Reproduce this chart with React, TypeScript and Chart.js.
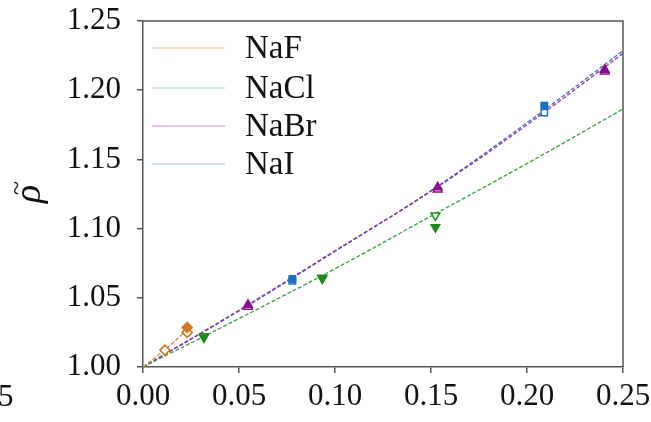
import React, { useEffect, useRef } from "react";
import { Chart, registerables } from "chart.js";
Chart.register(...registerables);

const seriesNames = ["NaF", "NaCl", "NaBr", "NaI"];
const lineColors = ["#d98a45", "#3c9e3c", "#9a2f9e", "#3a74c4"];
const legendColors = ["#eac19c", "#a8d8a8", "#c98ccf", "#a0c2de"];
const markerColors = ["#d2791f", "#1e8c1e", "#8b0f8b", "#1c6fc0"];

const xTicks = [0, 0.05, 0.1, 0.15, 0.2, 0.25];
const yTicks = [1.0, 1.05, 1.1, 1.15, 1.2, 1.25];
const yAxisLabel = "ρ";
const yAxisAccent = "~";

// fitted curves
const fitXNaF = [0, 0.0114, 0.023];
const fitYNaF = [1.0, 1.0125, 1.0268];
const fitX = [0, 0.05, 0.1, 0.15, 0.2, 0.25];
const fitYNaCl = [1.0, 1.035, 1.071, 1.109, 1.147, 1.1864];
const fitYNaBr = [1.0, 1.041, 1.084, 1.127, 1.175, 1.2265];
const fitYNaI = [1.0, 1.0405, 1.0835, 1.1275, 1.1765, 1.2285];

// measured points
const nafOpenX = [0.0114, 0.023];
const nafOpenY = [1.0122, 1.025];
const nafFilledX = [0.023];
const nafFilledY = [1.0286];
const naclOpenX = [0.0317, 0.0934, 0.1523];
const naclOpenY = [1.0222, 1.0645, 1.1095];
const naclFilledX = [0.0317, 0.0934, 0.1523];
const naclFilledY = [1.0214, 1.0639, 1.101];
const nabrOpenX = [0.0547, 0.1535, 0.2405];
const nabrOpenY = [1.0436, 1.1283, 1.2136];
const nabrFilledX = [0.0547, 0.1535, 0.2405];
const nabrFilledY = [1.0449, 1.1298, 1.2148];
const naiOpenX = [0.0778, 0.209];
const naiOpenY = [1.0622, 1.1838];
const naiFilledX = [0.0778, 0.209];
const naiFilledY = [1.0636, 1.1888];

const zip = (xs: number[], ys: number[]) => xs.map((x, i) => ({ x, y: ys[i] }));

const FONT = "'Liberation Serif', 'Times New Roman', serif";

export default function App() {
  const ref = useRef<HTMLCanvasElement | null>(null);
  useEffect(() => {
    if (!ref.current) return;
    const fitLine = (label: string, xs: number[], ys: number[], color: string) => ({
      type: "line" as const,
      label,
      data: zip(xs, ys),
      borderColor: color,
      borderWidth: 1.3,
      borderDash: [4, 2],
      pointRadius: 0,
      fill: false,
      tension: 0.4,
      order: 2,
    });
    const marks = (xs: number[], ys: number[], color: string, style: string, filled: boolean, rotation = 0, r = 5) => ({
      type: "scatter" as const,
      label: "",
      data: zip(xs, ys),
      showLine: false,
      pointStyle: style,
      rotation,
      pointRadius: r,
      pointBorderWidth: 1.5,
      borderColor: color,
      backgroundColor: filled ? color : "#ffffff",
      pointBackgroundColor: filled ? color : "#ffffff",
      order: 1,
    });

    const boxPlugin = {
      id: "box",
      afterDatasetsDraw(chart: any) {
        const { ctx, chartArea: a } = chart;
        ctx.save();
        ctx.strokeStyle = "#555";
        ctx.lineWidth = 1.5;
        ctx.beginPath();
        ctx.moveTo(a.left, a.top);
        ctx.lineTo(a.right, a.top);
        ctx.lineTo(a.right, a.bottom);
        ctx.stroke();
        ctx.restore();
      },
    };
    const legendPlugin = {
      id: "insideLegend",
      afterDraw(chart: any) {
        const { ctx, chartArea: a } = chart;
        const rows = [48, 88, 126, 164];
        ctx.save();
        ctx.font = `33px ${FONT}`;
        ctx.textBaseline = "middle";
        ctx.fillStyle = "#111";
        seriesNames.forEach((n, i) => {
          ctx.strokeStyle = legendColors[i];
          ctx.lineWidth = 1.2;
          ctx.beginPath();
          ctx.moveTo(152, rows[i]);
          ctx.lineTo(225, rows[i]);
          ctx.stroke();
          ctx.fillText(n, 245, rows[i] + 1);
        });
        // y-axis title: rho with tilde accent, rotated
        const cy = (a.top + a.bottom) / 2;
        ctx.translate(0, cy);
        ctx.rotate(-Math.PI / 2);
        ctx.textAlign = "center";
        ctx.textBaseline = "alphabetic";
        ctx.font = `italic 38px ${FONT}`;
        ctx.fillText(yAxisLabel, 0, 40);
        ctx.font = `26px ${FONT}`;
        ctx.textBaseline = "middle";
        ctx.fillText(yAxisAccent, 6, 17);
        ctx.restore();
      },
    };

    const chart = new Chart(ref.current, {
      data: {
        datasets: [
          fitLine("NaF", fitXNaF, fitYNaF, lineColors[0]),
          fitLine("NaCl", fitX, fitYNaCl, lineColors[1]),
          fitLine("NaBr", fitX, fitYNaBr, lineColors[2]),
          fitLine("NaI", fitX, fitYNaI, lineColors[3]),
          marks(nafFilledX, nafFilledY, markerColors[0], "rectRot", true),
          marks(nafOpenX, nafOpenY, markerColors[0], "rectRot", false),
          marks(naclFilledX, naclFilledY, markerColors[1], "triangle", true, 180),
          marks(naclOpenX, naclOpenY, markerColors[1], "triangle", false, 180),
          marks(nabrFilledX, nabrFilledY, markerColors[2], "triangle", true),
          marks(nabrOpenX, nabrOpenY, markerColors[2], "triangle", false),
          marks(naiFilledX, naiFilledY, markerColors[3], "rect", true, 0, 4.5),
          marks(naiOpenX, naiOpenY, markerColors[3], "rect", false, 0, 4.5),
        ] as any,
      },
      options: {
        animation: false,
        responsive: false,
        maintainAspectRatio: false,
        layout: { padding: { top: 21, right: 28, left: 0, bottom: 0 } },
        plugins: { legend: { display: false }, tooltip: { enabled: false } },
        scales: {
          x: {
            type: "linear",
            min: 0,
            max: 0.25,
            afterBuildTicks: (s: any) => { s.ticks = xTicks.map((v) => ({ value: v })); },
            afterFit: (s: any) => { s.height = 55; s.paddingLeft = 0; s.paddingRight = 0; },
            ticks: {
              callback: (v: any) => Number(v).toFixed(2),
              font: { family: FONT, size: 31 },
              color: "#111",
              padding: 5,
              maxRotation: 0,
            },
            grid: { drawOnChartArea: false, drawTicks: true, tickLength: 6, color: "#555", lineWidth: 1.5 },
            border: { color: "#555", width: 1.5 },
          },
          y: {
            type: "linear",
            min: 1.0,
            max: 1.25,
            afterBuildTicks: (s: any) => { s.ticks = yTicks.map((v) => ({ value: v })); },
            afterFit: (s: any) => { s.width = 143; s.paddingTop = 0; s.paddingBottom = 0; },
            ticks: {
              callback: (v: any) => Number(v).toFixed(2),
              font: { family: FONT, size: 31 },
              color: "#111",
              padding: 16,
            },
            grid: { drawOnChartArea: false, drawTicks: true, tickLength: 6, color: "#555", lineWidth: 1.5 },
            border: { color: "#555", width: 1.5 },
          },
        },
      } as any,
      plugins: [boxPlugin, legendPlugin],
    });
    return () => chart.destroy();
  }, []);
  return (
    <div style={{ position: "absolute", left: 0, top: 0, width: 651, height: 422, background: "#fff", overflow: "hidden" }}>
      <canvas ref={ref} width={651} height={422} style={{ display: "block" }} />
      <div style={{ position: "absolute", left: -2, top: 378, fontFamily: FONT, fontSize: 31, color: "#111", lineHeight: "36px" }}>5</div>
    </div>
  );
}
